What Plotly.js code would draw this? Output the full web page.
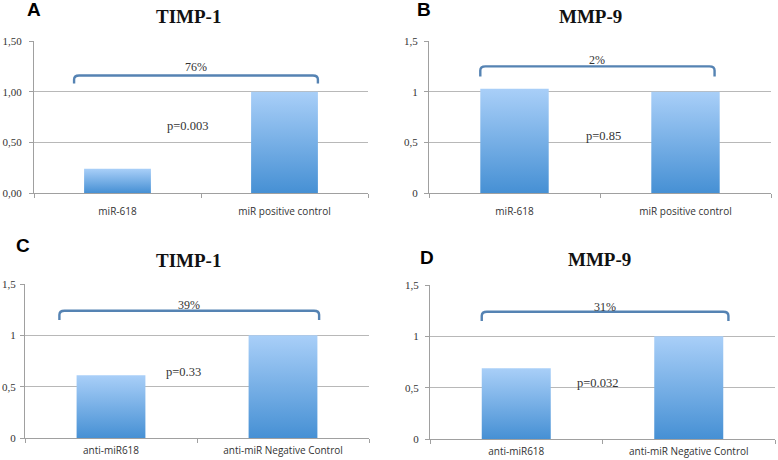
<!DOCTYPE html>
<html>
<head>
<meta charset="utf-8">
<script src="https://cdn.plot.ly/plotly-3.0.1.min.js"></script>
<style>html,body{margin:0;padding:0;background:#fff;}#chart{width:778px;height:460px;}</style>
</head>
<body>
<div id="chart"></div>
<script>
// ---- data ----
const catsAB = ["miR-618", "miR positive control"];
const catsCD = ["anti-miR618", "anti-miR Negative Control"];
const valuesA = [0.24, 1.00];
const valuesB = [1.03, 1.00];
const valuesC = [0.61, 1.00];
const valuesD = [0.69, 1.00];
const titles = ["TIMP-1", "MMP-9", "TIMP-1", "MMP-9"];
const letters = ["A", "B", "C", "D"];
const pctLabels = ["76%", "2%", "39%", "31%"];
const pLabels = ["p=0.003", "p=0.85", "p=0.33", "p=0.032"];
const tickValsY = [0, 0.5, 1, 1.5];
const tickTextA = ["0,00", "0,50", "1,00", "1,50"];
const tickTextOther = ["0", "0,5", "1", "1,5"];

// ---- layout config ----
const W = 778, H = 460;
const panels = [
  {cats: catsAB, vals: valuesA, ticks: tickTextA, px: [34, 368], py: [41, 193], xs: 9, ys: 5,
   br: {x0: -0.26, x1: 1.2, top: 1.16, bot: 1.08}, pct: 1.24, p: {x: 0.42, y: 0.66},
   title: {x: 188, y: 16}, letter: {x: 34, y: 10}},
  {cats: catsAB, vals: valuesB, ticks: tickTextOther, px: [429, 771], py: [41, 193], xs: 9, ys: 4,
   br: {x0: -0.2, x1: 1.17, top: 1.25, bot: 1.15}, pct: 1.31, p: {x: 0.52, y: 0.56},
   title: {x: 590, y: 16}, letter: {x: 424, y: 10}},
  {cats: catsCD, vals: valuesC, ticks: tickTextOther, px: [25, 369], py: [284, 438], xs: 3, ys: 2,
   br: {x0: -0.3, x1: 1.21, top: 1.24, bot: 1.15}, pct: 1.30, p: {x: 0.42, y: 0.64},
   title: {x: 188, y: 260}, letter: {x: 23, y: 245}},
  {cats: catsCD, vals: valuesD, ticks: tickTextOther, px: [430, 775], py: [285, 439], xs: 3, ys: 4,
   br: {x0: -0.2, x1: 1.23, top: 1.24, bot: 1.15}, pct: 1.29, p: {x: 0.47, y: 0.55},
   title: {x: 599, y: 259}, letter: {x: 427, y: 257}}
];

const serif = "Liberation Serif, Times New Roman, serif";
const sans = "Open Sans, DejaVu Sans, sans-serif";
const data = [];
const layout = {
  width: W, height: H, margin: {l: 0, r: 0, t: 0, b: 0},
  paper_bgcolor: "#ffffff", plot_bgcolor: "#ffffff",
  showlegend: false, bargap: 0.6,
  shapes: [], annotations: []
};

panels.forEach((pn, i) => {
  const n = i === 0 ? "" : String(i + 1);
  const xa = "x" + n, ya = "y" + n;
  data.push({
    type: "bar", x: pn.cats, y: pn.vals, xaxis: xa, yaxis: ya,
    width: 0.4, marker: {color: "#78b0e8", line: {width: 0}},
    hoverinfo: "x+y"
  });
  layout["xaxis" + n] = {
    domain: [pn.px[0] / W, pn.px[1] / W], anchor: ya,
    type: "category", range: [-0.5, 1.5],
    showline: true, linecolor: "#a0a0a0", linewidth: 1,
    ticks: "outside", tickson: "boundaries", ticklen: 4, tickcolor: "#a0a0a0",
    showgrid: false, zeroline: false, ticklabelstandoff: pn.xs,
    tickfont: {family: sans, size: 10, color: "#333333"}
  };
  layout["yaxis" + n] = {
    domain: [1 - pn.py[1] / H, 1 - pn.py[0] / H], anchor: xa,
    range: [0, 1.5], tickvals: tickValsY, ticktext: pn.ticks,
    showline: true, linecolor: "#a0a0a0", linewidth: 1,
    ticks: "outside", ticklen: 4, tickcolor: "#a0a0a0",
    showgrid: true, gridcolor: "#b8b8b8", gridwidth: 1,
    zeroline: false, ticklabelstandoff: pn.ys,
    tickfont: {family: serif, size: 11, color: "#333333"}
  };
  const b = pn.br, r = 0.04, rx = 0.03;
  layout.shapes.push({
    type: "path", xref: xa, yref: ya,
    path: `M ${b.x0} ${b.bot} L ${b.x0} ${b.top - r} Q ${b.x0} ${b.top} ${b.x0 + rx} ${b.top} ` +
          `L ${b.x1 - rx} ${b.top} Q ${b.x1} ${b.top} ${b.x1} ${b.top - r} L ${b.x1} ${b.bot}`,
    line: {color: "#5583b3", width: 2.4}
  });
  layout.annotations.push({
    xref: xa, yref: ya, x: (b.x0 + b.x1) / 2, y: pn.pct, text: pctLabels[i],
    showarrow: false, font: {family: serif, size: 12, color: "#333333"}
  });
  layout.annotations.push({
    xref: xa, yref: ya, x: pn.p.x, y: pn.p.y, text: pLabels[i],
    showarrow: false, font: {family: serif, size: 12.5, color: "#333333"}
  });
  layout.annotations.push({
    xref: "paper", yref: "paper", x: pn.title.x / W, y: 1 - pn.title.y / H,
    text: "<b>" + titles[i] + "</b>", showarrow: false,
    xanchor: "center", yanchor: "middle",
    font: {family: serif, size: 19, color: "#111111"}
  });
  layout.annotations.push({
    xref: "paper", yref: "paper", x: pn.letter.x / W, y: 1 - pn.letter.y / H,
    text: "<b>" + letters[i] + "</b>", showarrow: false,
    xanchor: "center", yanchor: "middle",
    font: {family: "Liberation Sans, Arial, sans-serif", size: 19, color: "#000000"}
  });
});

Plotly.newPlot("chart", data, layout, {staticPlot: true, displayModeBar: false}).then(gd => {
  // vertical gradient fill on bars (light top, darker bottom)
  const svg = gd.querySelector("svg.main-svg");
  const ns = "http://www.w3.org/2000/svg";
  let defs = svg.querySelector("defs");
  if (!defs) { defs = document.createElementNS(ns, "defs"); svg.insertBefore(defs, svg.firstChild); }
  const lg = document.createElementNS(ns, "linearGradient");
  lg.setAttribute("id", "barGrad");
  lg.setAttribute("x1", "0"); lg.setAttribute("y1", "0");
  lg.setAttribute("x2", "0"); lg.setAttribute("y2", "1");
  [["0", "#a9cff8"], ["1", "#4690d4"]].forEach(([o, c]) => {
    const s = document.createElementNS(ns, "stop");
    s.setAttribute("offset", o); s.setAttribute("stop-color", c);
    lg.appendChild(s);
  });
  defs.appendChild(lg);
  gd.querySelectorAll(".trace.bars .point path").forEach(p => {
    p.style.fill = "url(#barGrad)";
  });
});
</script>
</body>
</html>
